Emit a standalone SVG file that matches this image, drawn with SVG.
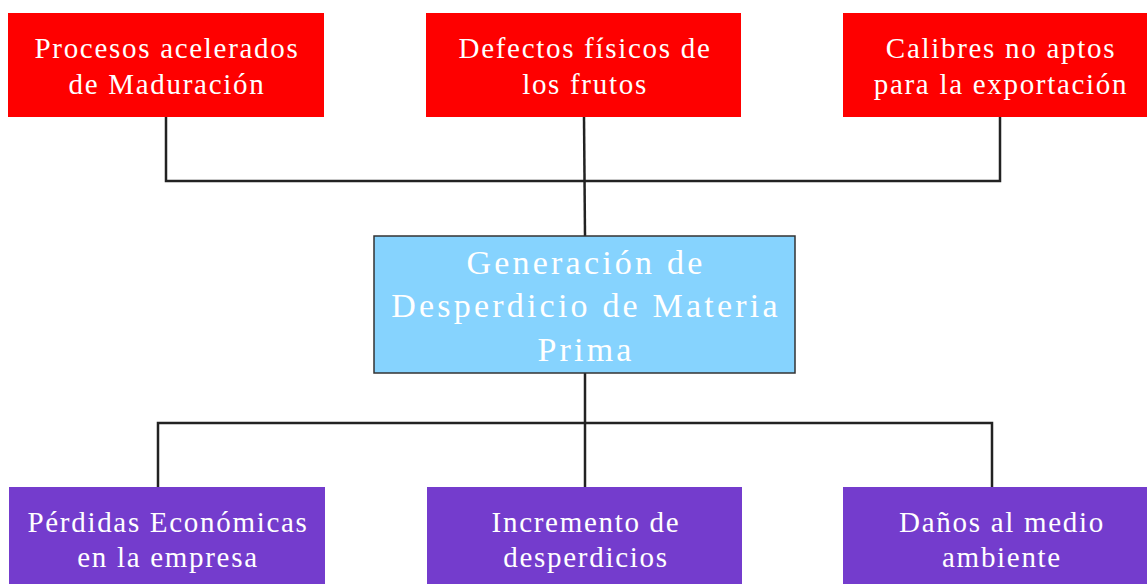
<svg xmlns="http://www.w3.org/2000/svg" width="1147" height="584" viewBox="0 0 1147 584">
<style>
.red{fill:#fe0000}
.pur{fill:#743ccd}
.ctr{fill:#86d3fe;stroke:#333;stroke-width:1.5}
text{font-family:"Liberation Serif",serif;fill:#fff;text-anchor:middle}
.t{font-size:29px;letter-spacing:1.7px}
.c{font-size:34px;letter-spacing:3.2px}
.con{fill:none;stroke:#222;stroke-width:2.5}
</style>
<rect width="1147" height="584" fill="#fff"/>
<g id="connectors">
<polyline class="con" points="166,117 166,181 1000,181 1000,117"/>
<line class="con" x1="584" y1="117" x2="585" y2="236"/>
<line class="con" x1="585" y1="373" x2="585" y2="487"/>
<polyline class="con" points="158,487 158,423 992,423 992,487"/>
</g>
<g id="n1"><rect class="red" x="8" y="13" width="316" height="104"/><text class="t" x="167" y="58">Procesos acelerados</text><text class="t" x="167" y="94">de Maduración</text></g>
<g id="n2"><rect class="red" x="426" y="13" width="315" height="104"/><text class="t" x="585" y="58">Defectos físicos de</text><text class="t" x="585" y="94">los frutos</text></g>
<g id="n3"><rect class="red" x="843" y="13" width="304" height="104"/><text class="t" x="1001" y="58">Calibres no aptos</text><text class="t" x="1001" y="94">para la exportación</text></g>
<g id="center"><rect class="ctr" x="374" y="236" width="421" height="137"/><text class="c" x="586" y="274">Generación de</text><text class="c" x="586" y="317">Desperdicio de Materia</text><text class="c" x="586" y="361">Prima</text></g>
<g id="n4"><rect class="pur" x="9" y="487" width="316" height="97"/><text class="t" x="168" y="532">Pérdidas Económicas</text><text class="t" x="168" y="567">en la empresa</text></g>
<g id="n5"><rect class="pur" x="427" y="487" width="315" height="97"/><text class="t" x="586" y="532">Incremento de</text><text class="t" x="586" y="567">desperdicios</text></g>
<g id="n6"><rect class="pur" x="843" y="487" width="304" height="97"/><text class="t" x="1002" y="532">Daños al medio</text><text class="t" x="1002" y="567">ambiente</text></g>
</svg>
